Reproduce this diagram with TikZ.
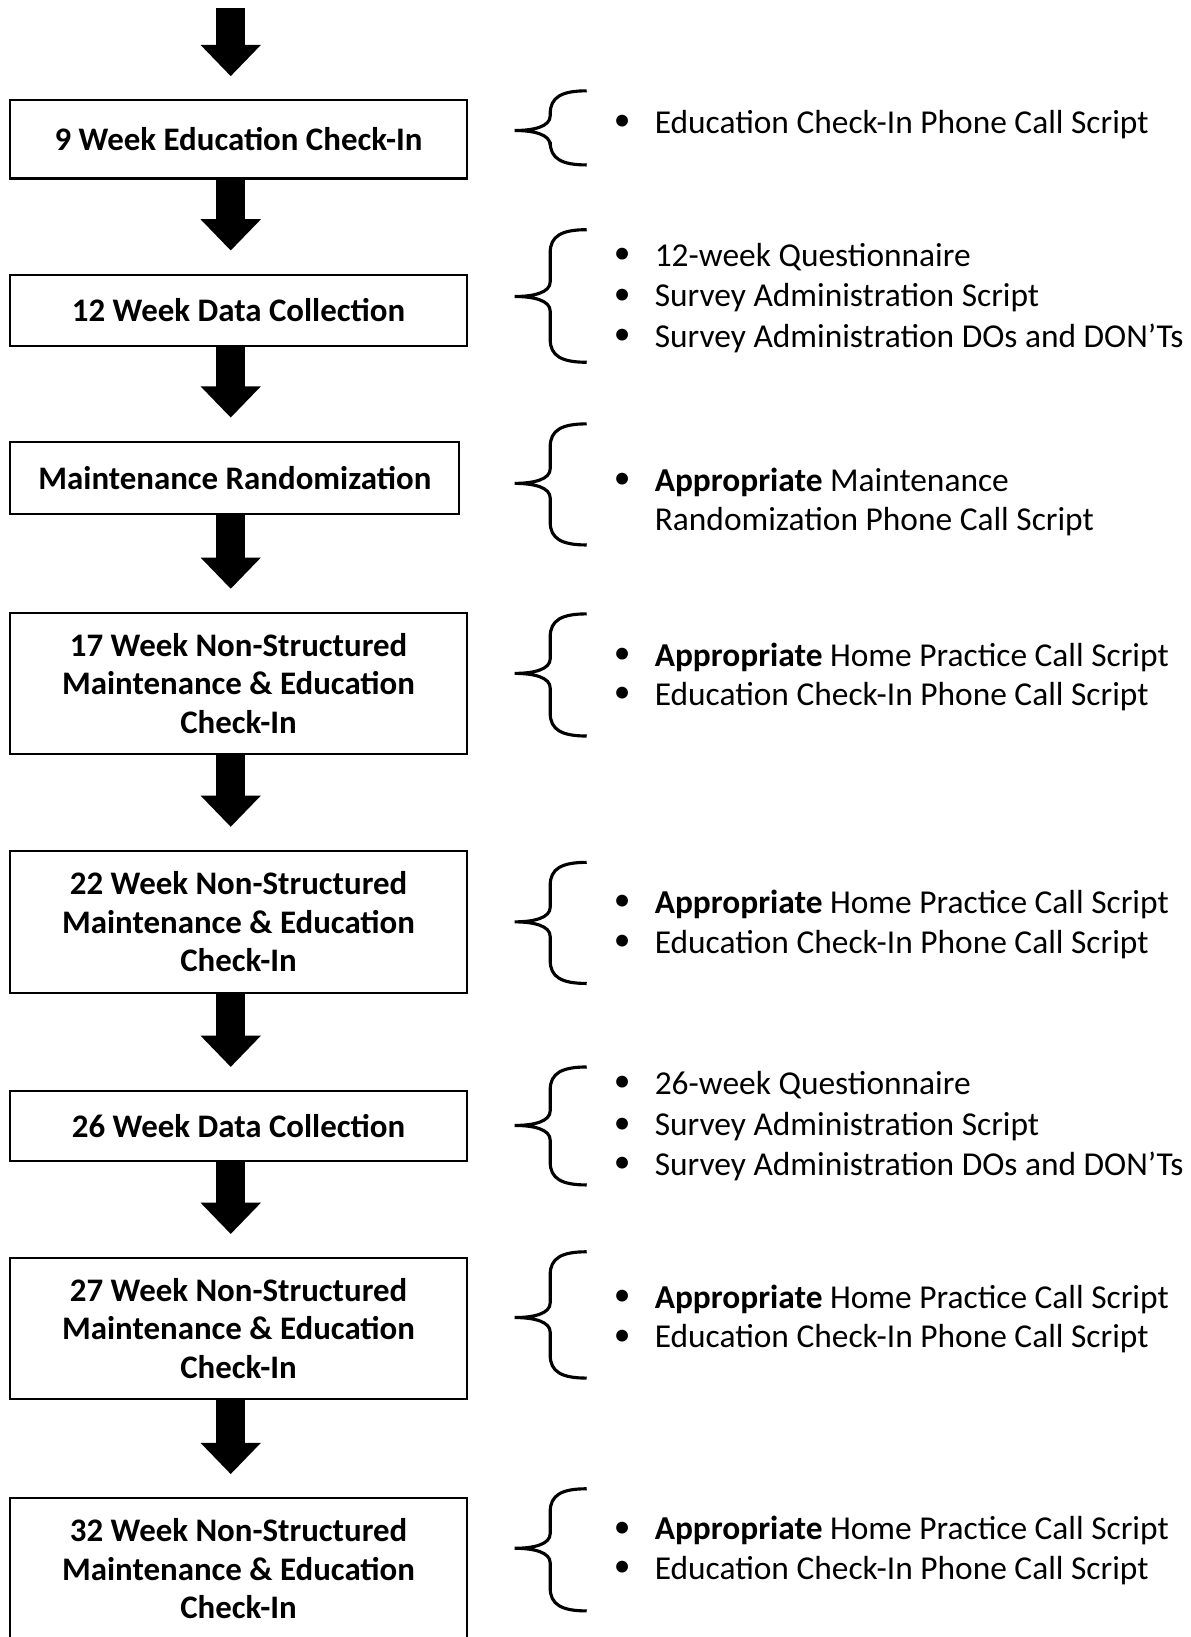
\documentclass[tikz,border=0pt]{standalone}
\usepackage{fontspec}
\setmainfont{Carlito}
\usetikzlibrary{arrows.meta,calc}
\newcommand\mybrace[3]{\draw[bracestyle] (562,#1) .. controls (538,#1) and (527,#1+6) .. (527,#1+22) -- (527,#2-14) .. controls (527,#2-4) and (512,#2) .. (493,#2) .. controls (512,#2) and (527,#2+4) .. (527,#2+14) -- (527,#3-22) .. controls (527,#3-6) and (538,#3) .. (562,#3);}
\begin{document}
\begin{tikzpicture}[x=1pt,y=-1pt,
 box/.style={draw, line width=2pt, inner sep=0pt, align=center, font=\fontsize{31.5}{37}\selectfont\bfseries},
 bigarrow/.style={line width=28pt, -{Triangle[length=30pt,width=56pt]}},
 bracestyle/.style={line width=3pt},
 bul/.style={inner sep=0pt, font=\fontsize{32}{39}\selectfont},
 itm/.style={inner sep=0pt, anchor=base west, yshift=-10pt, font=\fontsize{32}{37}\selectfont}]
\useasboundingbox (0,0) rectangle (1140,1568);
\clip (0,0) rectangle (1140,1568);
\coordinate (ax) at (221,0);
\coordinate (start) at (221,8);
% boxes
\node[box, minimum width=437pt, minimum height=75pt] (b1) at (228.5,133.5) {9 Week Education Check-In};
\node[box, minimum width=437pt, minimum height=68pt] (b2) at (228.5,297) {12 Week Data Collection};
\node[box, minimum width=430pt, minimum height=69pt] (b3) at (225,457.5) {Maintenance Randomization};
\node[box, minimum width=437pt, minimum height=135pt] (b4) at (228.5,654.5) {17 Week Non-Structured\\Maintenance \& Education\\Check-In};
\node[box, minimum width=437pt, minimum height=136pt] (b5) at (228.5,883) {22 Week Non-Structured\\Maintenance \& Education\\Check-In};
\node[box, minimum width=437pt, minimum height=67pt] (b6) at (228.5,1078.5) {26 Week Data Collection};
\node[box, minimum width=437pt, minimum height=135pt] (b7) at (228.5,1272.5) {27 Week Non-Structured\\Maintenance \& Education\\Check-In};
\node[box, minimum width=437pt, minimum height=135pt] (b8) at (228.5,1502.5) {32 Week Non-Structured\\Maintenance \& Education\\Check-In};
% arrows
\draw[bigarrow] (start) -- ($(b1.north -| ax)+(0,-22)$);
\draw[bigarrow] (b1.south -| ax) -- ($(b2.north -| ax)+(0,-22)$);
\draw[bigarrow] (b2.south -| ax) -- ($(b3.north -| ax)+(0,-22)$);
\draw[bigarrow] (b3.south -| ax) -- ($(b4.north -| ax)+(0,-22)$);
\draw[bigarrow] (b4.south -| ax) -- ($(b5.north -| ax)+(0,-22)$);
\draw[bigarrow] (b5.south -| ax) -- ($(b6.north -| ax)+(0,-22)$);
\draw[bigarrow] (b6.south -| ax) -- ($(b7.north -| ax)+(0,-22)$);
\draw[bigarrow] (b7.south -| ax) -- ($(b8.north -| ax)+(0,-22)$);
% braces
\mybrace{87}{125}{158}
\mybrace{220}{284}{347}
\mybrace{406}{463}{522}
\mybrace{588}{645}{705}
\mybrace{826}{883}{942}
\mybrace{1022}{1078}{1135}
\mybrace{1199}{1262}{1320}
\mybrace{1426}{1483}{1543}
% lists
\node[bul] (p1a) at (596,118) {•};
\node[itm] (t1a) at (627,118) {Education Check-In Phone Call Script};
\node[bul] (p2a) at (596,245) {•};
\node[itm] (t2a) at (627,245) {12-week Questionnaire};
\node[bul] (p2b) at (596,284) {•};
\node[itm] (t2b) at (627,284) {Survey Administration Script};
\node[bul] (p2c) at (596,323) {•};
\node[itm] (t2c) at (627,323) {Survey Administration DOs and DON’Ts};
\node[bul] (p3a) at (596,461) {•};
\node[itm] (t3a) at (627,461) {\textbf{Appropriate} Maintenance};
\node[itm] (t3b) at (627,498) {Randomization Phone Call Script};
\node[bul] (p4a) at (596,628) {•};
\node[itm] (t4a) at (627,628) {\textbf{Appropriate} Home Practice Call Script};
\node[bul] (p4b) at (596,666) {•};
\node[itm] (t4b) at (627,666) {Education Check-In Phone Call Script};
\node[bul] (p5a) at (596,865) {•};
\node[itm] (t5a) at (627,865) {\textbf{Appropriate} Home Practice Call Script};
\node[bul] (p5b) at (596,903) {•};
\node[itm] (t5b) at (627,903) {Education Check-In Phone Call Script};
\node[bul] (p6a) at (596,1038) {•};
\node[itm] (t6a) at (627,1038) {26-week Questionnaire};
\node[bul] (p6b) at (596,1078) {•};
\node[itm] (t6b) at (627,1078) {Survey Administration Script};
\node[bul] (p6c) at (596,1116) {•};
\node[itm] (t6c) at (627,1116) {Survey Administration DOs and DON’Ts};
\node[bul] (p7a) at (596,1243) {•};
\node[itm] (t7a) at (627,1243) {\textbf{Appropriate} Home Practice Call Script};
\node[bul] (p7b) at (596,1281) {•};
\node[itm] (t7b) at (627,1281) {Education Check-In Phone Call Script};
\node[bul] (p8a) at (596,1465) {•};
\node[itm] (t8a) at (627,1465) {\textbf{Appropriate} Home Practice Call Script};
\node[bul] (p8b) at (596,1503) {•};
\node[itm] (t8b) at (627,1503) {Education Check-In Phone Call Script};
\end{tikzpicture}
\end{document}
